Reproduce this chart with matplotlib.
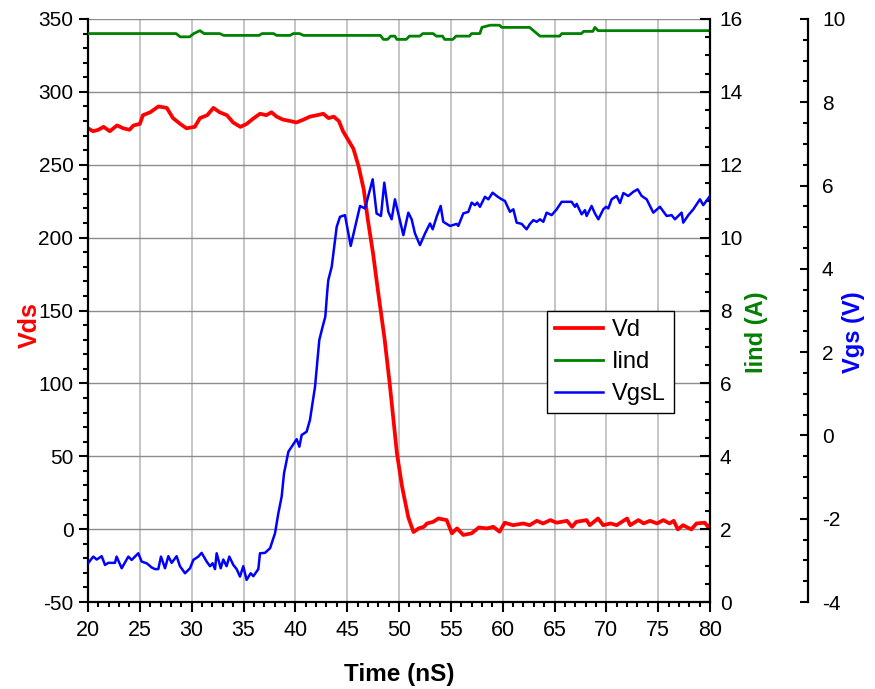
import numpy as np
import matplotlib.pyplot as plt
from matplotlib.ticker import MultipleLocator

plt.rcParams['font.family'] = ['Liberation Sans', 'DejaVu Sans']
plt.rcParams['axes.unicode_minus'] = False

# drain voltage (V) vs time (ns)
t_vd = [20.0, 20.5, 21.0, 21.5, 22.1, 22.8, 23.4, 24.0, 24.4, 25.0, 25.3, 26.0,
        26.8, 27.6, 28.2, 28.9, 29.5, 30.3, 30.8, 31.5, 32.1, 32.7, 33.4, 34.0,
        34.7, 35.3, 36.0, 36.6, 37.2, 37.7, 38.2, 38.8, 39.5, 40.1, 40.8, 41.4,
        42.1, 42.7, 43.2, 43.7, 44.2, 44.6, 45.1, 45.6, 46.1, 46.6, 47.0, 47.5,
        48.0, 48.6, 49.1, 49.8, 50.3, 50.9, 51.4, 51.9, 52.4, 52.7, 53.3, 53.8,
        54.6, 55.1, 55.6, 56.2, 57.0, 57.7, 58.5, 59.1, 59.7, 60.2, 61.0, 62.0,
        62.6, 63.3, 63.9, 64.6, 65.2, 66.2, 66.7, 67.1, 68.1, 68.4, 69.2, 69.7,
        70.4, 71.0, 72.0, 72.3, 73.1, 73.6, 74.2, 74.9, 75.5, 76.1, 76.5, 76.9,
        77.4, 78.2, 78.7, 79.5, 79.8, 80.0]
vd = [275, 273, 274, 276, 273, 277, 275, 274, 277, 278, 284, 286,
      290, 289, 282, 278, 275, 276, 282, 284, 289, 286, 284, 279,
      276, 278, 282, 285, 284, 286, 283, 281, 280, 279, 281, 283,
      284, 285, 282, 283, 280, 273, 267, 261, 249, 233, 212, 189,
      162, 131, 100, 52, 29, 8, -2, 0.5, 1.6, 3.9, 5.0, 7.3,
      6.2, -2.9, 0.5, -4.0, -2.9, 1.1, 0.5, 1.6, -1.8, 4.4, 2.7, 3.9,
      2.7, 5.7, 3.9, 6.2, 4.4, 5.7, 1.6, 5.0, 6.2, 2.7, 7.3, 2.7,
      3.9, 2.7, 7.3, 2.7, 6.2, 3.9, 5.7, 3.9, 6.2, 3.9, 5.7, -0.2,
      2.7, -0.2, 3.9, 4.4, 1.6, 3.0]

# inductor current (A)
t_iind = [20.0, 28.5, 28.9, 29.8, 30.2, 30.8, 31.2, 32.7, 33.1, 36.5, 36.8,
          37.9, 38.2, 39.5, 39.8, 40.4, 40.8, 48.2, 48.5, 48.9, 49.2, 49.6,
          49.8, 50.7, 51.0, 52.0, 52.3, 53.3, 53.6, 54.2, 54.4, 55.2, 55.5,
          56.8, 57.0, 57.8, 58.0, 58.8, 59.7, 59.9, 62.6, 63.6, 65.5, 65.7,
          67.6, 67.8, 68.7, 68.9, 69.2, 80.0]
iind = [15.60, 15.60, 15.51, 15.51, 15.60, 15.68, 15.60, 15.60, 15.55, 15.55,
        15.60, 15.60, 15.55, 15.55, 15.60, 15.60, 15.55, 15.55, 15.44, 15.44,
        15.53, 15.53, 15.44, 15.44, 15.53, 15.53, 15.60, 15.60, 15.53, 15.53,
        15.44, 15.44, 15.53, 15.53, 15.60, 15.60, 15.77, 15.83, 15.83, 15.77,
        15.77, 15.53, 15.53, 15.60, 15.60, 15.66, 15.66, 15.77, 15.68, 15.68]

# gate-source voltage (V)
t_vgs = [20.03, 20.51, 20.84, 21.32, 21.64, 21.96, 22.60, 22.76, 23.25, 23.89,
         24.21, 24.53, 24.85, 25.18, 25.66, 26.14, 26.46, 26.78, 27.04, 27.43,
         27.75, 28.07, 28.55, 28.87, 29.36, 29.84, 30.16, 30.64, 30.96, 31.45,
         31.77, 32.02, 32.25, 32.41, 32.80, 33.05, 33.37, 33.63, 34.02, 34.34,
         34.66, 34.98, 35.30, 35.69, 35.95, 36.43, 36.59, 37.07, 37.56, 38.04,
         38.36, 38.68, 38.91, 39.33, 40.13, 40.39, 40.61, 41.09, 41.41, 41.90,
         42.31, 42.63, 42.89, 43.09, 43.18, 43.51, 43.99, 44.31, 44.79, 45.34,
         45.92, 46.24, 46.72, 47.46, 47.84, 48.26, 48.58, 48.97, 49.29, 49.61,
         49.93, 50.42, 50.90, 51.22, 51.54, 52.02, 52.51, 52.99, 53.25, 53.63,
         54.02, 54.27, 54.92, 55.56, 55.72, 56.20, 56.69, 57.01, 57.33, 57.55,
         57.81, 58.29, 58.62, 59.03, 59.42, 59.90, 60.22, 60.70, 61.03, 61.35,
         61.83, 62.31, 62.63, 62.96, 63.28, 63.60, 63.92, 64.24, 64.72, 65.21,
         65.69, 66.65, 66.98, 67.14, 67.62, 67.94, 68.10, 68.58, 68.90, 69.23,
         69.71, 69.97, 70.19, 70.51, 70.99, 71.32, 71.64, 72.12, 72.60, 73.02,
         73.41, 73.89, 74.53, 75.17, 75.82, 76.30, 76.62, 77.26, 77.42, 77.91,
         78.39, 79.03, 79.35, 80.00]
vgs = [-3.06, -2.91, -2.98, -2.90, -3.11, -3.06, -3.06, -2.91, -3.19, -2.91,
       -2.99, -2.91, -2.83, -3.03, -3.07, -3.17, -3.21, -3.21, -2.91, -3.19,
       -2.90, -3.06, -2.90, -3.14, -3.31, -3.19, -2.99, -2.91, -2.82, -3.03,
       -3.14, -3.07, -3.21, -2.83, -3.19, -2.98, -3.14, -2.91, -3.11, -3.21,
       -3.39, -3.14, -3.47, -3.31, -3.38, -3.21, -2.83, -2.82, -2.71, -2.35,
       -1.87, -1.47, -0.91, -0.39, -0.09, -0.27, 0.01, 0.09, 0.37, 1.17,
       2.29, 2.61, 2.85, 3.49, 3.73, 4.05, 5.01, 5.25, 5.29, 4.55,
       5.17, 5.51, 5.45, 6.15, 5.33, 5.27, 6.07, 5.37, 5.19, 5.67,
       5.33, 4.81, 5.35, 5.19, 4.85, 4.57, 4.85, 5.09, 4.95, 5.25,
       5.51, 5.13, 5.03, 5.08, 5.03, 5.33, 5.37, 5.59, 5.53, 5.59,
       5.49, 5.73, 5.67, 5.83, 5.75, 5.67, 5.63, 5.37, 5.43, 5.11,
       5.08, 4.95, 5.08, 5.17, 5.13, 5.19, 5.13, 5.35, 5.29, 5.43,
       5.61, 5.61, 5.49, 5.56, 5.31, 5.41, 5.27, 5.51, 5.33, 5.19,
       5.43, 5.49, 5.45, 5.67, 5.75, 5.58, 5.82, 5.75, 5.85, 5.91,
       5.75, 5.67, 5.35, 5.49, 5.27, 5.29, 5.19, 5.35, 5.11, 5.29,
       5.43, 5.67, 5.53, 5.75]

fig = plt.figure(figsize=(8.75, 6.89), dpi=100)
ax = fig.add_axes([88 / 875, 87 / 689, 622 / 875, 583 / 689])
ax2 = ax.twinx()
ax3 = ax.twinx()

l1, = ax.plot(t_vd, vd, color='#ff0000', lw=2.7, label='Vd')
l2, = ax2.plot(t_iind, iind, color='#008000', lw=2.0, label='Iind')
l3, = ax3.plot(t_vgs, vgs, color='#0000ff', lw=1.8, label='VgsL')

# main axis: time and Vds
ax.set_xlim(20, 80)
ax.set_ylim(-50, 350)
ax.xaxis.set_major_locator(MultipleLocator(5))
ax.xaxis.set_minor_locator(MultipleLocator(1))
ax.yaxis.set_major_locator(MultipleLocator(50))
ax.yaxis.set_minor_locator(MultipleLocator(10))
ax.tick_params(axis='x', which='major', direction='out', length=7, width=1.5,
               labelsize=15.5, pad=6)
ax.tick_params(axis='x', which='minor', direction='out', length=3.6, width=1.5)
ax.tick_params(axis='y', which='major', direction='out', length=6.5, width=1.5,
               labelsize=15, pad=4)
ax.tick_params(axis='y', which='minor', direction='out', length=3.6, width=1.5)
ax.grid(axis='y', which='major', color='#8c8c8c', lw=1.0)
ax.grid(axis='x', which='major', color='#c0c0c0', lw=1.3)
ax.set_axisbelow(True)
for s in ['top', 'right']:
    ax.spines[s].set_visible(False)
for s in ['left', 'bottom']:
    ax.spines[s].set_linewidth(1.6)

ax.set_xlabel('Time (nS)', fontsize=17.5, fontweight='bold')
ax.xaxis.set_label_coords(0.5, -0.104)
ax.set_ylabel('Vds', fontsize=18, fontweight='bold', color='#ff0000')
ax.yaxis.set_label_coords(-0.075, 0.475)

# inductor current axis
ax2.set_ylim(0, 16)
ax2.yaxis.set_major_locator(MultipleLocator(2))
ax2.yaxis.set_minor_locator(MultipleLocator(0.5))
ax2.tick_params(axis='y', which='major', direction='in', length=7, width=1.5,
                labelsize=15, pad=7)
ax2.tick_params(axis='y', which='minor', direction='in', length=3.6, width=1.5)
for s in ['top', 'left', 'bottom']:
    ax2.spines[s].set_visible(False)
ax2.spines['right'].set_linewidth(1.6)
ax2.set_ylabel('Iind (A)', fontsize=17, fontweight='bold', color='#008000')
ax2.yaxis.set_label_coords(1.057, 0.463)

# gate voltage axis, offset to the right
ax3.set_ylim(-4, 10)
ax3.spines['right'].set_position(('axes', 1.1576))
ax3.yaxis.set_major_locator(MultipleLocator(2))
ax3.yaxis.set_minor_locator(MultipleLocator(0.5))
ax3.tick_params(axis='y', which='major', direction='in', length=6, width=1.5,
                labelsize=15, pad=10)
ax3.tick_params(axis='y', which='minor', direction='in', length=3.6, width=1.5)
for s in ['top', 'left', 'bottom']:
    ax3.spines[s].set_visible(False)
ax3.spines['right'].set_linewidth(1.6)
ax3.set_ylabel('Vgs (V)', fontsize=17, fontweight='bold', color='#0000ff')
ax3.yaxis.set_label_coords(1.212, 0.463)

leg = ax3.legend(handles=[l1, l2, l3], loc='upper left',
                 bbox_to_anchor=(0.738, 0.499), fontsize=17, fancybox=False,
                 edgecolor='black', framealpha=1, handlelength=2.0,
                 handletextpad=0.4, labelspacing=0.42, borderpad=0.35,
                 borderaxespad=0)
leg.get_frame().set_linewidth(1.0)

fig.savefig('out.png', dpi=100)
